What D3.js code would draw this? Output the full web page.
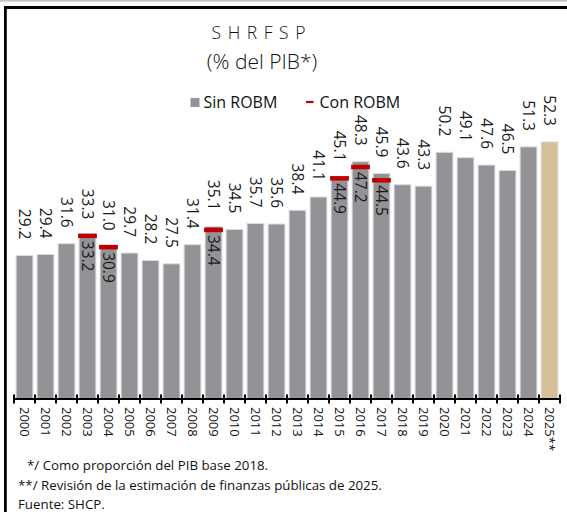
<!DOCTYPE html>
<html><head><meta charset="utf-8">
<script src="https://cdn.jsdelivr.net/npm/d3@7"></script>
<style>
html,body{margin:0;padding:0;background:#fff;}
svg{display:block;font-family:"Open Sans","Noto Sans",sans-serif;font-weight:400;}
</style></head>
<body><svg id="c" width="567" height="512"></svg>
<script>
const years = ["2000","2001","2002","2003","2004","2005","2006","2007","2008","2009","2010","2011","2012","2013","2014","2015","2016","2017","2018","2019","2020","2021","2022","2023","2024","2025**"];
const sinROBM = [29.2,29.4,31.6,33.3,31.0,29.7,28.2,27.5,31.4,35.1,34.5,35.7,35.6,38.4,41.1,45.1,48.3,45.9,43.6,43.3,50.2,49.1,47.6,46.5,51.3,52.3];
const conROBM = [null,null,null,33.2,30.9,null,null,null,null,34.4,null,null,null,null,null,44.9,47.2,44.5,null,null,null,null,null,null,null,null];
const titleText = "S H R F S P";
const subtitleText = "(% del PIB*)";
const legendLabels = ["Sin ROBM","Con ROBM"];
const notes = ["*/ Como proporción del PIB base 2018.","**/ Revisión de la estimación de finanzas públicas de 2025.","Fuente: SHCP."];

const svg = d3.select("#c");
const W = 567, H = 512;
const GRAY = "#939296", TAN = "#d5bf98", RED = "#c00000";

// frame
svg.append("line").attr("x1",0).attr("x2",W).attr("y1",0.8).attr("y2",0.8).attr("stroke","#c4c4c4").attr("stroke-width",1.8);
svg.append("line").attr("x1",4).attr("x2",W).attr("y1",7.5).attr("y2",7.5).attr("stroke","#000").attr("stroke-width",2.8);
svg.append("line").attr("x1",5.4).attr("x2",5.4).attr("y1",6).attr("y2",H).attr("stroke","#000").attr("stroke-width",2.8);

// title
svg.append("text").attr("x",259).attr("y",39).attr("text-anchor","middle").attr("font-size",17.5).attr("font-weight",360).attr("letter-spacing",1).attr("fill","#111").text(titleText);
svg.append("text").attr("x",262).attr("y",69).attr("text-anchor","middle").attr("font-size",21).attr("font-weight",360).attr("fill","#111").text(subtitleText);

// legend
svg.append("rect").attr("x",190.5).attr("y",98).attr("width",9).attr("height",9).attr("fill",GRAY);
svg.append("text").attr("x",203.5).attr("y",107.5).attr("font-size",16).attr("fill","#111").text(legendLabels[0]);
svg.append("line").attr("x1",306).attr("x2",313.5).attr("y1",102).attr("y2",102).attr("stroke",RED).attr("stroke-width",2.2);
svg.append("text").attr("x",319.5).attr("y",107.5).attr("font-size",16).attr("fill","#111").text(legendLabels[1]);

// scales
const x = d3.scaleBand().domain(years).range([14,560]).paddingInner(0.2).paddingOuter(0.1);
const y = d3.scaleLinear().domain([0,60]).range([399,104.1]);

const data = years.map((yr,i)=>({yr, s:sinROBM[i], c:conROBM[i], last:i===years.length-1}));

// bars
svg.append("g").selectAll("rect").data(data).join("rect")
  .attr("x",d=>x(d.yr)).attr("width",x.bandwidth())
  .attr("y",d=>y(d.s)).attr("height",d=>y(0)-y(d.s))
  .attr("fill",d=>d.last?TAN:GRAY)
  .attr("stroke","#dcdcdc").attr("stroke-width",1);

// red markers
const cd = data.filter(d=>d.c!=null);
svg.append("g").selectAll("line").data(cd).join("line")
  .attr("x1",d=>x(d.yr)-1).attr("x2",d=>x(d.yr)+x.bandwidth()+1)
  .attr("y1",d=>y(d.c)).attr("y2",d=>y(d.c))
  .attr("stroke",RED).attr("stroke-width",4.5);

// value labels above
const cx = d=>x(d.yr)+x.bandwidth()/2;
svg.append("g").selectAll("text").data(data).join("text")
  .attr("transform",d=>`translate(${cx(d)},${y(d.s)-16}) rotate(90)`)
  .attr("text-anchor","end").attr("dy","0.36em")
  .attr("font-size",15.5).attr("fill","#1a1a1a")
  .text(d=>d.s.toFixed(1));

// con labels inside
svg.append("g").selectAll("text").data(cd).join("text")
  .attr("transform",d=>`translate(${cx(d)},${y(d.c)+5}) rotate(90)`)
  .attr("text-anchor","start").attr("dy","0.36em")
  .attr("font-size",15.5).attr("fill","#1a1a1a")
  .text(d=>d.c.toFixed(1));

// axis
const ax = svg.append("g").attr("transform","translate(0,399)");
ax.append("line").attr("x1",14).attr("x2",560).attr("stroke","#000").attr("stroke-width",2);
const edges = years.map(yr=>x(yr)-x.step()*x.paddingInner()/2).concat([560]);
ax.selectAll("line.tk").data(edges).join("line").attr("class","tk")
  .attr("x1",d=>d).attr("x2",d=>d).attr("y1",-4.5).attr("y2",4.5)
  .attr("stroke","#000").attr("stroke-width",2);
ax.selectAll("text").data(years).join("text")
  .attr("transform",d=>`translate(${x(d)+x.bandwidth()/2},8) rotate(90)`)
  .attr("text-anchor","start").attr("dy","0.36em")
  .attr("font-size",13).attr("fill","#111").text(d=>d);

// notes
const ny = [470,490,509];
const nx = [27,18,18];
notes.forEach((t,i)=>svg.append("text").attr("x",nx[i]).attr("y",ny[i]).attr("font-size",13.3).attr("fill","#111").text(t));
</script></body></html>
